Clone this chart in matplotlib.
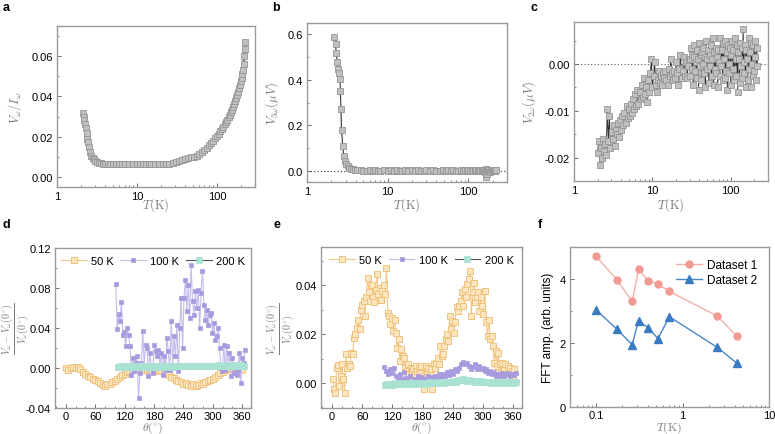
import numpy as np
import matplotlib
matplotlib.use('Agg')
import matplotlib.pyplot as plt
from matplotlib.ticker import MultipleLocator, LogLocator, NullFormatter, FixedLocator

plt.rcParams['font.family'] = ['Liberation Sans', 'DejaVu Sans']
plt.rcParams['mathtext.fontset'] = 'cm'
plt.rcParams['font.size'] = 8

# ---------------- data ----------------
# panel a : V_w / I_w vs T
t_a = [2.1, 2.15, 2.2, 2.25, 2.3, 2.35, 2.4, 2.45, 2.5, 2.6, 2.7, 2.8, 2.9, 3.0, 3.2, 3.4, 3.6, 3.8,
       4.0, 4.3, 4.6, 5, 5.5, 6, 6.5, 7, 8, 9, 10, 11, 12, 13, 14, 15, 17, 19, 21, 23, 25, 28, 31, 34,
       37, 40, 44, 48, 52, 56, 60, 65, 70, 75, 80, 85, 90, 95, 100, 105, 110, 115, 120, 125, 130, 135,
       140, 145, 150, 155, 160, 165, 170, 175, 180, 185, 190, 195, 200, 204, 208, 212, 216, 220, 224, 228]
v_a = [0.0317, 0.0300, 0.0285, 0.0265, 0.0245, 0.0220, 0.0190, 0.0175, 0.0150, 0.0125, 0.0105, 0.0095,
       0.0087, 0.0080, 0.0074, 0.0071, 0.0068, 0.0066, 0.0065, 0.0064, 0.0063, 0.0062, 0.0062, 0.0062,
       0.0062, 0.0062, 0.0062, 0.0062, 0.0062, 0.0062, 0.0062, 0.0062, 0.0062, 0.0062, 0.0063, 0.0063,
       0.0064, 0.0065, 0.0066, 0.0069, 0.0073, 0.0077, 0.0082, 0.0088, 0.0093, 0.0097, 0.0101, 0.0106,
       0.0112, 0.0122, 0.0134, 0.0145, 0.0157, 0.0168, 0.0180, 0.0191, 0.0202, 0.0214, 0.0226, 0.0238,
       0.0250, 0.0261, 0.0272, 0.0284, 0.0296, 0.0309, 0.0322, 0.0335, 0.0349, 0.0363, 0.0378, 0.0393,
       0.0408, 0.0424, 0.0440, 0.0458, 0.0476, 0.0492, 0.0510, 0.0530, 0.0560, 0.0600, 0.0635, 0.0670]

# panel b : V_3w vs T
t_b = [2.19, 2.26, 2.30, 2.37, 2.43, 2.49, 2.56, 2.59, 2.63, 2.68, 2.77, 2.85, 2.95, 3.05, 3.2, 3.35,
       3.5, 3.7, 3.9, 4.2, 4.6, 5, 5.5, 6, 6.5, 7, 7.5, 8, 9, 10, 11, 12, 13, 14, 15, 16.5, 18, 20, 22,
       24, 26, 28, 30, 33, 36, 40, 44, 48, 52, 56, 60, 65, 70, 75, 80, 85, 90, 95, 100, 105, 110, 115,
       120, 125, 130, 135, 140, 145, 150, 155, 160, 163, 166, 168, 170, 175, 180, 185, 190, 195, 200,
       205, 210, 215, 220]
v_b = [0.587, 0.557, 0.517, 0.477, 0.448, 0.432, 0.403, 0.352, 0.272, 0.179, 0.109, 0.066, 0.044, 0.029,
       0.019, 0.013, 0.009, 0.006, 0.004, 0.002, 0.001, 0.000, -0.002, 0.001, -0.001, 0.002, -0.002,
       0.000, 0.003, -0.001, 0.002, -0.003, 0.001, 0.000, -0.002, 0.002, -0.001, 0.001, -0.003, 0.002,
       0.000, -0.002, 0.001, -0.001, 0.003, -0.002, 0.000, 0.002, -0.003, 0.001, -0.001, 0.002, -0.002,
       0.000, 0.004, -0.002, 0.001, -0.003, 0.002, -0.001, 0.003, -0.002, 0.000, 0.002, -0.003, 0.001,
       -0.001, 0.003, -0.002, 0.002, -0.004, -0.030, 0.008, -0.015, 0.005, -0.003, 0.002, -0.004, 0.003,
       -0.001, 0.002, -0.003, 0.001, -0.002, 0.001]

# panel c : V_2w vs T, low-T part (2-30 K) and high-T part (30-220 K), both on log grids
v_c_low = [-0.0190, -0.0165, -0.0215, -0.0180, -0.0200, -0.0160, -0.0185, -0.0170, -0.0195, -0.0095,
           -0.0165, -0.0110, -0.0180, -0.0145, -0.0160, -0.0130, -0.0175, -0.0140, -0.0150, -0.0125,
           -0.0155, -0.0120, -0.0140, -0.0110, -0.0130, -0.0105, -0.0125, -0.0090, -0.0115, -0.0095,
           -0.0110, -0.0085, -0.0105, -0.0075, -0.0095, -0.0065, -0.0090, -0.0055, -0.0085, -0.0060,
           -0.0075, -0.0045, -0.0070, -0.0030, -0.0065, -0.0050, -0.0080, -0.0035, -0.0060, -0.0020,
           0.0010, -0.0050, -0.0025, 0.0005, -0.0045, -0.0060, -0.0035, -0.0015, -0.0040, -0.0025,
           -0.0045, -0.0020, -0.0030, -0.0015, -0.0035, -0.0045, -0.0010, -0.0025, 0.0010, -0.0020,
           -0.0035, -0.0015, -0.0030, 0.0005, -0.0020, -0.0045, -0.0010, 0.0020, -0.0030, -0.0015,
           0.0015, -0.0025, 0.0005, -0.0030, -0.0005, 0.0010]
v_c_high = [0.0010, -0.0025, 0.0035, -0.0010, 0.0020, -0.0045, 0.0015, 0.0040, -0.0015, 0.0005,
            -0.0030, 0.0030, 0.0010, -0.0055, 0.0045, -0.0005, 0.0020, -0.0035, 0.0025, 0.0000,
            0.0035, -0.0020, 0.0015, -0.0050, 0.0050, 0.0010, -0.0010, 0.0030, -0.0040, 0.0020,
            -0.0005, 0.0040, -0.0025, 0.0010, 0.0055, -0.0045, 0.0025, -0.0010, 0.0035, -0.0020,
            0.0015, -0.0050, 0.0030, 0.0005, -0.0025, 0.0055, -0.0005, 0.0030, -0.0035, 0.0045,
            0.0010, -0.0030, 0.0050, -0.0015, 0.0025, -0.0055, 0.0040, 0.0000, -0.0020, 0.0035,
            -0.0045, 0.0020, 0.0050, -0.0010, 0.0030, -0.0035, 0.0055, 0.0010, -0.0025, 0.0040,
            -0.0060, 0.0025, 0.0010, -0.0040, 0.0045, -0.0005, 0.0035, -0.0030, 0.0075, 0.0005,
            -0.0020, 0.0040, -0.0050, 0.0030, 0.0010, -0.0035, 0.0055, -0.0010, 0.0025, -0.0050,
            0.0045, 0.0000, -0.0025, 0.0040, -0.0015, 0.0050, 0.0015, -0.0035, 0.0035, -0.0005]
t_c = np.concatenate([np.geomspace(2.0, 29.5, len(v_c_low)), np.geomspace(30.0, 220, len(v_c_high))])
v_c = v_c_low + v_c_high

# panel d : angular dependence
d_50 = [0.000, -0.002, 0.000, 0.001, 0.000, 0.001, -0.001, -0.004, -0.006, -0.008, -0.009, -0.011,
        -0.012, -0.013, -0.015, -0.017, -0.018, -0.016, -0.016, -0.014, -0.013, -0.011, -0.009, -0.007,
        -0.006, -0.004, -0.003, -0.002, -0.002, -0.001, -0.002, -0.001, -0.002, -0.002, -0.001, -0.002,
        -0.002, -0.003, -0.002, -0.003, -0.004, -0.005, -0.007, -0.009, -0.010, -0.012, -0.013, -0.014,
        -0.016, -0.015, -0.017, -0.018, -0.016, -0.018, -0.017, -0.015, -0.016, -0.014, -0.013, -0.012,
        -0.011, -0.009, -0.007, -0.005, -0.004, -0.002, -0.001, 0.000, -0.001, 0.000, -0.002, -0.001, -0.002]
d_100 = [0.084, 0.039, 0.054, 0.047, 0.066, 0.033, 0.036, 0.022, 0.040, 0.033,
         0.022, -0.007, 0.010, -0.003, 0.005, 0.012, -0.030, -0.005, 0.005, 0.037,
         0.003, 0.023, 0.020, -0.008, 0.015, 0.003, -0.005, 0.023, 0.017, 0.012,
         0.018, 0.002, 0.015, -0.007, 0.012, -0.002, 0.030, 0.017, -0.002, 0.047,
         0.003, 0.032, 0.012, 0.043, -0.003, 0.040, 0.070, 0.020, 0.070, 0.088,
         0.057, 0.083, 0.050, 0.103, 0.067, 0.053, 0.077, 0.060, 0.078, 0.040,
         0.075, 0.097, 0.063, 0.048, 0.058, 0.043, 0.053, 0.055, 0.035, 0.045,
         0.028, 0.032, 0.040, 0.020, 0.000, -0.003, 0.023, -0.002, 0.022, 0.003,
         0.015, -0.008, 0.010, -0.005, 0.000, -0.007, -0.002, 0.015, -0.015, 0.010,
         0.005, 0.018]
d_200 = [0.0015, 0.0012, 0.0016, 0.0013, 0.0017, 0.0014, 0.0012, 0.0016, 0.0015, 0.0013,
         0.0017, 0.0014, 0.0016, 0.0012, 0.0015, 0.0017, 0.0013, 0.0016, 0.0014, 0.0018,
         0.0015, 0.0013, 0.0017, 0.0016, 0.0014, 0.0018, 0.0015, 0.0017, 0.0014, 0.0016,
         0.0019, 0.0015, 0.0017, 0.0016, 0.0014, 0.0018, 0.0016, 0.0019, 0.0015, 0.0017,
         0.0020, 0.0016, 0.0018, 0.0021, 0.0017, 0.0019, 0.0022, 0.0018, 0.0020, 0.0023,
         0.0019, 0.0021, 0.0018, 0.0022, 0.0020, 0.0024, 0.0021, 0.0019, 0.0023, 0.0020,
         0.0022, 0.0025, 0.0021, 0.0023, 0.0020, 0.0024, 0.0022, 0.0025, 0.0021, 0.0023,
         0.0026, 0.0022, 0.0024, 0.0021, 0.0025, 0.0023, 0.0026, 0.0022, 0.0024, 0.0027,
         0.0023, 0.0025, 0.0022, 0.0026, 0.0024, 0.0027, 0.0023, 0.0025]

# panel e : angular dependence (second configuration)
e_50 = [0.0019, -0.0024, -0.0040, 0.0064, 0.0073, -0.0010, 0.0030, 0.0078, 0.0016, -0.0038,
        0.0118, 0.0064, 0.0078, 0.0071, 0.0125, 0.0118, 0.0186, 0.0200, 0.0227, 0.0260,
        0.0220, 0.0300, 0.0320, 0.0336, 0.0275, 0.0350, 0.0430, 0.0370, 0.0336, 0.0400,
        0.0350, 0.0330, 0.0380, 0.0445, 0.0363, 0.0390, 0.0340, 0.0377, 0.0400, 0.0363,
        0.0470, 0.0288, 0.0275, 0.0240, 0.0268, 0.0213, 0.0260, 0.0207, 0.0146, 0.0180,
        0.0091, 0.0139, 0.0111, 0.0105, 0.0064, 0.0050, 0.0078, 0.0037, 0.0064, 0.0050,
        0.0057, 0.0037, 0.0071, 0.0050, 0.0064, 0.0044, 0.0071, 0.0030, -0.0024, 0.0071,
        0.0050, 0.0064, 0.0044, 0.0057, -0.0024, 0.0078, 0.0064, 0.0084, 0.0105, 0.0078,
        0.0152, 0.0111, 0.0118, 0.0152, 0.0180, 0.0200, 0.0173, 0.0275, 0.0220, 0.0254,
        0.0207, 0.0248, 0.0309, 0.0295, 0.0316, 0.0336, 0.0370, 0.0316, 0.0384, 0.0350,
        0.0404, 0.0424, 0.0458, 0.0275, 0.0370, 0.0410, 0.0330, 0.0350, 0.0370, 0.0295,
        0.0350, 0.0316, 0.0282, 0.0377, 0.0248, 0.0193, 0.0260, 0.0180, 0.0193, 0.0152,
        0.0084, 0.0132, 0.0071, 0.0125, 0.0078, 0.0044, 0.0084, 0.0057, 0.0078, 0.0037,
        0.0071, 0.0044, 0.0064, 0.0050, 0.0030, 0.0057]
e_100 = [0.0067, 0.0050, 0.0037, 0.0057, 0.0044, 0.0064, 0.0030, 0.0023, 0.0037, 0.0016,
         0.0045, 0.0023, 0.0010, 0.0030, 0.0003, 0.0020, 0.0010, 0.0030, 0.0016, 0.0025,
         0.0005, 0.0020, 0.0030, 0.0012, 0.0025, 0.0018, 0.0032, 0.0020, 0.0037, 0.0025,
         0.0040, 0.0030, 0.0045, 0.0035, 0.0050, 0.0040, 0.0057, 0.0050, 0.0064, 0.0078,
         0.0087, 0.0080, 0.0085, 0.0070, 0.0060, 0.0068, 0.0078, 0.0060, 0.0070, 0.0057,
         0.0064, 0.0050, 0.0057, 0.0044, 0.0050, 0.0037, 0.0045, 0.0030, 0.0040, 0.0032,
         0.0044, 0.0030, 0.0037, 0.0044, 0.0030, 0.0040, 0.0035, 0.0042]
e_200 = [-0.0008, -0.0004, -0.0007, -0.0002, -0.0005, 0.0000, -0.0004, 0.0002, -0.0003, 0.0001,
         -0.0002, 0.0003, -0.0001, 0.0002, -0.0003, 0.0001, 0.0003, -0.0001, 0.0002, 0.0000,
         0.0003, -0.0001, 0.0002, 0.0004, 0.0001, 0.0003, 0.0000, 0.0004, 0.0002, 0.0005,
         0.0003, 0.0006, 0.0004, 0.0007, 0.0005, 0.0008, 0.0006, 0.0010, 0.0012, 0.0014,
         0.0016, 0.0012, 0.0010, 0.0013, 0.0009, 0.0011, 0.0007, 0.0010, 0.0006, 0.0008,
         0.0005, 0.0007, 0.0004, 0.0006, 0.0003, 0.0005, 0.0002, 0.0005, 0.0003, 0.0006,
         0.0002, 0.0004, 0.0001, 0.0004, 0.0002, 0.0005, 0.0003, 0.0004]

# panel f : FFT amplitude vs T
t_f = [0.10, 0.174, 0.262, 0.31, 0.40, 0.52, 0.706, 2.53, 4.25]
fft_1 = [4.71, 3.98, 3.30, 4.30, 3.95, 3.84, 3.61, 2.84, 2.21]
fft_2 = [3.04, 2.43, 1.95, 2.70, 2.47, 2.14, 2.82, 1.86, 1.37]

# ---------------- styles ----------------
FRAME = '#9a9a9a'
LABEL = '#7a7a7a'
GRAY_SQ = dict(marker='s', ms=3.9, mfc='#c0c0c0', mec='#959595', mew=0.6)
C50 = dict(color='#f3c98a', marker='s', ms=4.2, mfc='#fbe6bf', mec='#f0c27e', mew=0.7, lw=0.8)
C100 = dict(color='#c5bced', marker='s', ms=3.4, mfc='#a89ade', mec='#a89ade', mew=0.5, lw=0.8)
C200 = dict(color='#555555', marker='s', ms=4.0, mfc='#a9e2d2', mec='#a9e2d2', mew=0.5, lw=0.8)

W, H = 775, 435
fig = plt.figure(figsize=(W / 100, H / 100), dpi=100)


def make_ax(l, r, t, b):
    ax = fig.add_axes([l / W, 1 - b / H, (r - l) / W, (b - t) / H])
    for s in ax.spines.values():
        s.set_color(FRAME)
        s.set_linewidth(1.0)
    ax.tick_params(which='both', direction='in', color='#555555', labelsize=8, pad=3)
    ax.tick_params(which='major', length=3, width=0.6)
    ax.tick_params(which='minor', length=1.6, width=0.5)
    return ax


def place_xlabel(ax, text, y_px, b, t, size=9):
    ax.set_xlabel(text, color=LABEL, fontsize=size)
    ax.xaxis.set_label_coords(0.5, -(y_px - b) / (b - t))
    ax.xaxis.label.set_va('center')


def log_t_axis(ax, b, t):
    ax.set_xscale('log')
    ax.set_xlim(1, 300)
    ax.xaxis.set_major_locator(FixedLocator([1, 10, 100]))
    ax.set_xticklabels(['1', '10', '100'])
    ax.xaxis.set_minor_locator(LogLocator(base=10, subs=np.arange(2, 10)))
    ax.xaxis.set_minor_formatter(NullFormatter())
    place_xlabel(ax, r'$T(\mathrm{K})$', 205, b, t)


# a
ax = make_ax(57, 255, 27, 188)
ax.plot(t_a, v_a, color='#7a7a7a', lw=2.0, **GRAY_SQ)
log_t_axis(ax, 188, 27)
ax.set_ylim(-0.005, 0.075)
ax.set_yticks([0, 0.02, 0.04, 0.06])
ax.set_yticklabels(['0.00', '0.02', '0.04', '0.06'])
ax.yaxis.set_minor_locator(MultipleLocator(0.01))
ax.set_ylabel(r'$V_\omega/I_\omega$', color=LABEL, fontsize=9, labelpad=5)

# b
ax = make_ax(307, 507, 24, 183)
ax.axhline(0, color='#333333', lw=0.8, ls=(0, (1, 2)))
ax.plot(t_b, v_b, color='#333333', lw=0.8, **GRAY_SQ)
log_t_axis(ax, 183, 24)
ax.set_ylim(-0.05, 0.65)
ax.set_yticks([0, 0.2, 0.4, 0.6])
ax.set_yticklabels(['0.0', '0.2', '0.4', '0.6'])
ax.yaxis.set_minor_locator(MultipleLocator(0.1))
ax.set_ylabel(r'$V_{3\omega}(\mu V)$', color=LABEL, fontsize=9, labelpad=5)

# c
ax = make_ax(574, 768, 23, 182)
ax.axhline(0, color='#555555', lw=0.8, ls=(0, (1, 2)))
ax.plot(t_c, v_c, color='#333333', lw=0.7, **GRAY_SQ)
log_t_axis(ax, 182, 23)
ax.set_ylim(-0.025, 0.009)
ax.set_yticks([-0.02, -0.01, 0.0])
ax.set_yticklabels(['-0.02', '-0.01', '0.00'])
ax.yaxis.set_minor_locator(MultipleLocator(0.005))
ax.set_ylabel(r'$V_{2\omega}(\mu V)$', color=LABEL, fontsize=9, labelpad=5)

frac = r'$\dfrac{V_\omega - V_\omega(0^{\circ})}{V_\omega(0^{\circ})}$'


def angle_axis(ax, b, t):
    ax.set_xlim(-22, 378)
    ax.set_xticks([0, 60, 120, 180, 240, 300, 360])
    ax.xaxis.set_minor_locator(MultipleLocator(20))
    ax.tick_params(axis='x', pad=2)
    place_xlabel(ax, r'$\theta(^{\circ})$', 428, b, t, size=8.5)
    ax.legend(loc='upper center', ncol=3, frameon=False, fontsize=8, handlelength=2.3,
              columnspacing=0.6, handletextpad=0.4, borderaxespad=0.3)


# d
ax = make_ax(55, 251, 249, 409)
ax.plot(np.arange(0, 361, 5), d_50, label='50 K', **C50)
ax.plot(np.linspace(102, 366, len(d_100)), d_100, label='100 K', **C100)
ax.plot(np.linspace(106, 364, len(d_200)), d_200, label='200 K', **C200)
angle_axis(ax, 409, 249)
ax.set_ylim(-0.04, 0.12)
ax.set_yticks([-0.04, 0, 0.04, 0.08, 0.12])
ax.set_yticklabels(['-0.04', '0.00', '0.04', '0.08', '0.12'])
ax.yaxis.set_minor_locator(MultipleLocator(0.02))
ax.set_ylabel(frac, color=LABEL, fontsize=7.2)
ax.yaxis.set_label_coords(-(55 - 15) / 196, 0.5)
ax.yaxis.label.set_va('center')

# e
ax = make_ax(321, 522, 248, 409)
ax.plot(np.linspace(1, 363, len(e_50)), e_50, label='50 K', **C50)
ax.plot(np.linspace(104, 366, len(e_100)), e_100, label='100 K', **C100)
ax.plot(np.linspace(106, 366, len(e_200)), e_200, label='200 K', **C200)
angle_axis(ax, 409, 248)
ax.set_ylim(-0.01, 0.0555)
ax.set_yticks([0, 0.02, 0.04])
ax.set_yticklabels(['0.00', '0.02', '0.04'])
ax.yaxis.set_minor_locator(MultipleLocator(0.01))
ax.set_ylabel(frac, color=LABEL, fontsize=7.2)
ax.yaxis.set_label_coords(-(321 - 280) / 201, 0.5)
ax.yaxis.label.set_va('center')

# f
ax = make_ax(570, 769, 248, 408)
ax.plot(t_f, fft_1, color='#f4b0a8', marker='o', ms=5, mfc='#f19a93', mec='#f19a93', lw=1.0,
        label='Dataset 1')
ax.plot(t_f, fft_2, color='#4a87c6', marker='^', ms=5.5, mfc='#3b7bc0', mec='#3b7bc0', lw=1.0,
        label='Dataset 2')
ax.set_xscale('log')
ax.set_xlim(0.05, 10)
ax.xaxis.set_major_locator(FixedLocator([0.1, 1, 10]))
ax.set_xticklabels(['0.1', '1', '10'])
ax.xaxis.set_minor_locator(LogLocator(base=10, subs=np.arange(2, 10)))
ax.xaxis.set_minor_formatter(NullFormatter())
ax.tick_params(axis='x', pad=2)
ax.set_ylim(0, 5)
ax.set_yticks([0, 2, 4])
ax.yaxis.set_minor_locator(MultipleLocator(1))
place_xlabel(ax, r'$T(\mathrm{K})$', 428, 408, 248, size=8.5)
ax.set_ylabel('FFT amp. (arb. units)', fontsize=8.5, labelpad=4)
ax.legend(loc='upper right', frameon=False, fontsize=8.5, handlelength=2.2, handletextpad=0.4,
          labelspacing=0.3, borderaxespad=0.6)

# panel letters
for lab, x, y in [('a', 6, 8), ('b', 276, 8), ('c', 534, 8),
                  ('d', 6, 225), ('e', 277, 225), ('f', 540, 225)]:
    fig.text(x / W, 1 - y / H, lab, fontsize=9, weight='bold', ha='center', va='center')

fig.savefig('out.png', dpi=100)
